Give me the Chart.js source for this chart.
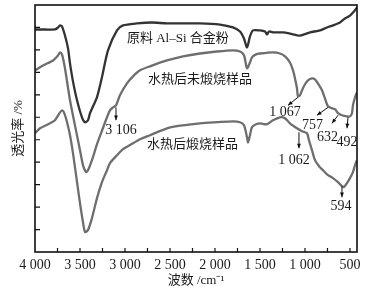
<!DOCTYPE html>
<html>
<head>
<meta charset="utf-8">
<script src="https://cdn.jsdelivr.net/npm/chart.js@4.4.0/dist/chart.umd.min.js"></script>
<style>
  html, body { margin: 0; padding: 0; background: #fff; }
</style>
</head>
<body>
<canvas id="ftir" width="367" height="288"></canvas>
<script>
// wavenumber (cm-1) / transmittance (arbitrary units, 1 unit = 1 y tick)
const wnRaw = [4000, 3889, 3778, 3744, 3722, 3700, 3667, 3633, 3611, 3578, 3533, 3478, 3444, 3411, 3389, 3311, 3256, 3189, 3089, 3022, 2867, 2700, 2533, 2167, 1944, 1800, 1722, 1678, 1644, 1611, 1578, 1500, 1444, 1422, 1400, 1356, 1244, 1167, 1056, 944, 833, 756, 689, 611, 556, 500, 456, 422];
const tRaw = [9.91, 9.91, 9.91, 10.0, 10.09, 10.04, 9.64, 9.07, 8.4, 7.6, 6.76, 6.0, 5.78, 5.87, 6.18, 6.9, 7.78, 8.98, 9.87, 10.09, 10.18, 10.22, 10.18, 10.18, 10.13, 10.0, 9.82, 9.51, 9.11, 9.6, 9.87, 9.87, 9.82, 9.69, 9.82, 9.78, 9.78, 9.73, 9.64, 9.78, 9.87, 10.0, 10.09, 10.22, 10.4, 10.53, 10.71, 10.89];

const wnDried = [4000, 3911, 3800, 3744, 3722, 3700, 3667, 3611, 3556, 3500, 3467, 3433, 3411, 3367, 3311, 3256, 3200, 3167, 3133, 3100, 3056, 2978, 2911, 2833, 2722, 2533, 2356, 2167, 1978, 1800, 1722, 1678, 1644, 1611, 1589, 1544, 1500, 1356, 1278, 1222, 1167, 1133, 1111, 1089, 1078, 1056, 1033, 1000, 967, 922, 889, 856, 811, 778, 744, 700, 667, 633, 589, 533, 500, 478, 467, 444, 422];
const tDried = [8.09, 8.31, 8.53, 8.76, 8.89, 8.8, 8.18, 6.76, 5.64, 4.53, 3.87, 3.56, 3.64, 4.09, 4.8, 5.4, 6.0, 6.31, 6.44, 6.53, 6.98, 7.51, 7.82, 8.09, 8.27, 8.53, 8.71, 8.84, 8.93, 8.98, 8.93, 8.76, 8.18, 8.44, 8.67, 8.8, 8.84, 8.89, 8.84, 8.71, 8.44, 8.09, 7.73, 7.29, 6.93, 6.98, 7.2, 7.47, 7.64, 7.73, 7.69, 7.51, 7.2, 6.84, 6.49, 6.4, 6.36, 6.18, 6.09, 6.04, 6.04, 6.18, 6.53, 6.89, 7.11];

const wnCalc = [4000, 3944, 3833, 3778, 3722, 3700, 3678, 3644, 3611, 3578, 3533, 3500, 3467, 3444, 3411, 3367, 3311, 3256, 3200, 3167, 3089, 3022, 2944, 2833, 2722, 2533, 2356, 2167, 1978, 1800, 1722, 1678, 1644, 1633, 1611, 1589, 1544, 1500, 1422, 1356, 1278, 1222, 1167, 1089, 1033, 978, 956, 922, 889, 844, 800, 744, 689, 633, 589, 567, 533, 500, 467, 444, 422];
const tCalc = [5.29, 5.51, 5.73, 5.87, 6.22, 6.31, 6.22, 5.78, 5.2, 4.4, 3.11, 2.18, 1.33, 0.89, 0.98, 1.51, 2.4, 3.11, 3.64, 3.96, 4.31, 4.58, 4.76, 5.02, 5.2, 5.51, 5.64, 5.73, 5.78, 5.82, 5.78, 5.64, 5.11, 4.89, 5.2, 5.56, 5.69, 5.73, 5.69, 5.87, 6.0, 5.96, 5.73, 5.51, 5.38, 5.29, 4.98, 4.53, 4.09, 3.82, 3.64, 3.42, 3.29, 3.11, 2.93, 2.89, 3.07, 3.29, 3.56, 3.87, 4.09];

const xTicks = [4000, 3750, 3500, 3250, 3000, 2750, 2500, 2250, 2000, 1750, 1500, 1250, 1000, 750, 500];

// text labels and peak arrows, in data units
const curveLabels = [
  { text: '原料 Al–Si 合金粉', x: 2978, y: 9.51, align: 'left' },
  { text: '水热后未煅烧样品', x: 2744, y: 7.69, align: 'left' },
  { text: '水热后煅烧样品', x: 2756, y: 4.78, align: 'left' }
];
const peakLabels = [
  { text: '3 106', x: 3044, y: 5.42 },
  { text: '1 067', x: 1222, y: 6.2 },
  { text: '757', x: 917, y: 5.64 },
  { text: '632', x: 750, y: 5.11 },
  { text: '492', x: 533, y: 4.89 },
  { text: '1 062', x: 1122, y: 4.09 },
  { text: '594', x: 600, y: 2.04 }
];
const arrows = [
  [3100, 6.44, 3100, 5.87],
  [1078, 6.89, 1189, 6.53],
  [744, 6.44, 867, 6.09],
  [633, 6.09, 700, 5.73],
  [522, 6.0, 533, 5.51],
  [1067, 5.33, 1067, 4.62],
  [589, 2.93, 589, 2.44]
];

const SERIF = "'Liberation Serif', 'Times New Roman', 'Noto Sans CJK SC', serif";

const toPoints = (xs, ys) => xs.map((x, i) => ({ x: x, y: ys[i] }));

const fmtWn = (v) => {
  if (v % 500 !== 0) return '';
  if (v >= 1000) return Math.floor(v / 1000) + ' ' + String(v % 1000).padStart(3, '0');
  return String(v);
};

const decor = {
  id: 'decor',
  afterDatasetsDraw(chart) {
    const ctx = chart.ctx;
    const { left, right, top, bottom } = chart.chartArea;
    const xs = chart.scales.x, ys = chart.scales.y;
    ctx.save();

    // frame
    ctx.strokeStyle = '#111';
    ctx.lineWidth = 1.6;
    ctx.strokeRect(left, top, right - left, bottom - top);

    // inward ticks
    ctx.lineWidth = 1.2;
    ctx.beginPath();
    xs.ticks.forEach(t => {
      const px = xs.getPixelForValue(t.value);
      if (px <= left + 1 || px >= right - 1) return;
      ctx.moveTo(px, bottom);
      ctx.lineTo(px, bottom - 4);
    });
    ys.ticks.forEach(t => {
      const py = ys.getPixelForValue(t.value);
      if (py >= bottom - 1 || py <= top + 1) return;
      ctx.moveTo(left, py);
      ctx.lineTo(left + 5, py);
    });
    ctx.stroke();

    // arrows
    ctx.strokeStyle = '#111';
    ctx.fillStyle = '#111';
    ctx.lineWidth = 1;
    arrows.forEach(a => {
      const x1 = xs.getPixelForValue(a[0]), y1 = ys.getPixelForValue(a[1]);
      const x2 = xs.getPixelForValue(a[2]), y2 = ys.getPixelForValue(a[3]);
      const ang = Math.atan2(y2 - y1, x2 - x1);
      ctx.beginPath();
      ctx.moveTo(x1, y1);
      ctx.lineTo(x2, y2);
      ctx.stroke();
      ctx.beginPath();
      ctx.moveTo(x2, y2);
      ctx.lineTo(x2 - 5 * Math.cos(ang - 0.4), y2 - 5 * Math.sin(ang - 0.4));
      ctx.lineTo(x2 - 5 * Math.cos(ang + 0.4), y2 - 5 * Math.sin(ang + 0.4));
      ctx.closePath();
      ctx.fill();
    });

    // text
    ctx.fillStyle = '#1a1a1a';
    ctx.textBaseline = 'middle';
    ctx.font = '13px ' + SERIF;
    curveLabels.forEach(l => {
      ctx.textAlign = l.align;
      ctx.fillText(l.text, xs.getPixelForValue(l.x), ys.getPixelForValue(l.y));
    });
    ctx.font = '14px ' + SERIF;
    ctx.textAlign = 'center';
    peakLabels.forEach(l => {
      ctx.fillText(l.text, xs.getPixelForValue(l.x), ys.getPixelForValue(l.y));
    });
    ctx.restore();
  }
};

new Chart(document.getElementById('ftir'), {
  type: 'line',
  data: {
    datasets: [
      { label: '原料 Al-Si 合金粉', data: toPoints(wnRaw, tRaw), borderColor: '#333333', borderWidth: 2.3 },
      { label: '水热后未煅烧样品', data: toPoints(wnDried, tDried), borderColor: '#6e6e6e', borderWidth: 2.3 },
      { label: '水热后煅烧样品', data: toPoints(wnCalc, tCalc), borderColor: '#6e6e6e', borderWidth: 2.3 }
    ]
  },
  options: {
    responsive: false,
    animation: false,
    events: [],
    layout: { padding: { top: 5, right: 10, left: 0, bottom: 0 } },
    elements: {
      point: { radius: 0 },
      line: { tension: 0.25, fill: false }
    },
    plugins: {
      legend: { display: false },
      tooltip: { enabled: false }
    },
    scales: {
      x: {
        type: 'linear',
        reverse: true,
        min: 422,
        max: 4000,
        afterBuildTicks: (scale) => { scale.ticks = xTicks.map(v => ({ value: v })); },
        afterFit: (scale) => { scale.height = 36; },
        grid: { display: false, drawTicks: false },
        border: { display: false },
        ticks: {
          autoSkip: false,
          maxRotation: 0,
          padding: 5,
          color: '#1a1a1a',
          font: { family: SERIF, size: 14 },
          callback: (v) => fmtWn(v)
        },
        title: {
          display: true,
          text: '波数 /cm⁻¹',
          color: '#1a1a1a',
          font: { family: SERIF, size: 13 },
          padding: { top: 0, bottom: 0 }
        }
      },
      y: {
        min: 0,
        max: 11,
        afterFit: (scale) => { scale.width = 35; },
        grid: { display: false, drawTicks: false },
        border: { display: false },
        ticks: { display: false, stepSize: 1 },
        title: {
          display: true,
          text: '透光率 /%',
          color: '#1a1a1a',
          font: { family: SERIF, size: 13 },
          padding: { top: 11, bottom: 0 }
        }
      }
    }
  },
  plugins: [decor]
});
</script>
</body>
</html>
